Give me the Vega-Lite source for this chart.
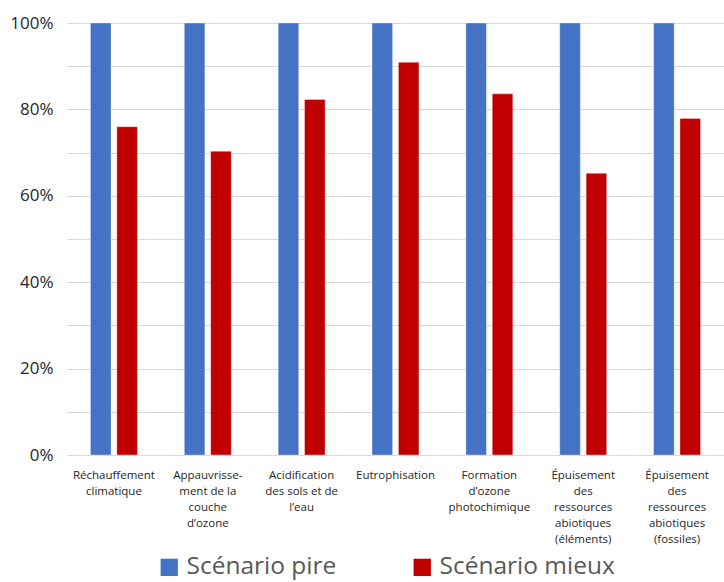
{
  "$schema": "https://vega.github.io/schema/vega-lite/v6.json",
  "width": 657,
  "height": 432,
  "autosize": {"type": "none"},
  "padding": {"left": 67, "top": 23, "right": 0, "bottom": 127},
  "config": {
    "font": "Open Sans",
    "view": {"stroke": null}
  },
  "data": {
    "values": [
      {"cat": "Réchauffement|climatique", "scenario": "Scénario pire", "value": 1.0},
      {"cat": "Réchauffement|climatique", "scenario": "Scénario mieux", "value": 0.760},
      {"cat": "Appauvrisse-|ment de la|couche|d’ozone", "scenario": "Scénario pire", "value": 1.0},
      {"cat": "Appauvrisse-|ment de la|couche|d’ozone", "scenario": "Scénario mieux", "value": 0.703},
      {"cat": "Acidification|des sols et de|l’eau", "scenario": "Scénario pire", "value": 1.0},
      {"cat": "Acidification|des sols et de|l’eau", "scenario": "Scénario mieux", "value": 0.823},
      {"cat": "Eutrophisation", "scenario": "Scénario pire", "value": 1.0},
      {"cat": "Eutrophisation", "scenario": "Scénario mieux", "value": 0.909},
      {"cat": "Formation|d’ozone|photochimique", "scenario": "Scénario pire", "value": 1.0},
      {"cat": "Formation|d’ozone|photochimique", "scenario": "Scénario mieux", "value": 0.836},
      {"cat": "Épuisement|des|ressources|abiotiques|(éléments)", "scenario": "Scénario pire", "value": 1.0},
      {"cat": "Épuisement|des|ressources|abiotiques|(éléments)", "scenario": "Scénario mieux", "value": 0.652},
      {"cat": "Épuisement|des|ressources|abiotiques|(fossiles)", "scenario": "Scénario pire", "value": 1.0},
      {"cat": "Épuisement|des|ressources|abiotiques|(fossiles)", "scenario": "Scénario mieux", "value": 0.779}
    ]
  },
  "mark": {"type": "bar", "stroke": "#ffffff", "strokeOpacity": 0.35, "strokeWidth": 1},
  "encoding": {
    "x": {
      "field": "cat",
      "type": "nominal",
      "sort": null,
      "scale": {"paddingInner": 0.5, "paddingOuter": 0.25},
      "axis": {
        "title": null,
        "labelAngle": 0,
        "labelExpr": "split(datum.label, '|')",
        "labelFontSize": 11.5,
        "labelLineHeight": 16,
        "labelColor": "#262626",
        "labelPadding": 14,
        "labelBaseline": "top",
        "ticks": false,
        "domainColor": "#d9d9d9",
        "domainWidth": 1,
        "labelLimit": 0
      }
    },
    "xOffset": {
      "field": "scenario",
      "type": "nominal",
      "sort": ["Scénario pire", "Scénario mieux"],
      "scale": {"paddingInner": 0.22, "paddingOuter": 0}
    },
    "y": {
      "field": "value",
      "type": "quantitative",
      "scale": {"domain": [0, 1], "nice": false},
      "axis": {
        "title": null,
        "values": [0, 0.1, 0.2, 0.3, 0.4, 0.5, 0.6, 0.7, 0.8, 0.9, 1.0],
        "labelExpr": "round(datum.value * 10) % 2 == 0 ? format(datum.value, '.0%') : ''",
        "labelFontSize": 17,
        "labelColor": "#262626",
        "labelPadding": 14,
        "ticks": false,
        "domain": false,
        "gridColor": "#d9d9d9",
        "gridWidth": 1
      }
    },
    "color": {
      "field": "scenario",
      "type": "nominal",
      "sort": ["Scénario pire", "Scénario mieux"],
      "scale": {"domain": ["Scénario pire", "Scénario mieux"], "range": ["#4472C4", "#C00000"]},
      "legend": {
        "title": null,
        "orient": "none",
        "direction": "horizontal",
        "legendX": 90,
        "legendY": 532,
        "symbolType": "square",
        "symbolSize": 300,
        "symbolStrokeWidth": 0,
        "labelFontSize": 24.5,
        "labelLimit": 400,
        "labelColor": "#595959",
        "labelOffset": 5,
        "columnPadding": 73
      }
    }
  }
}
